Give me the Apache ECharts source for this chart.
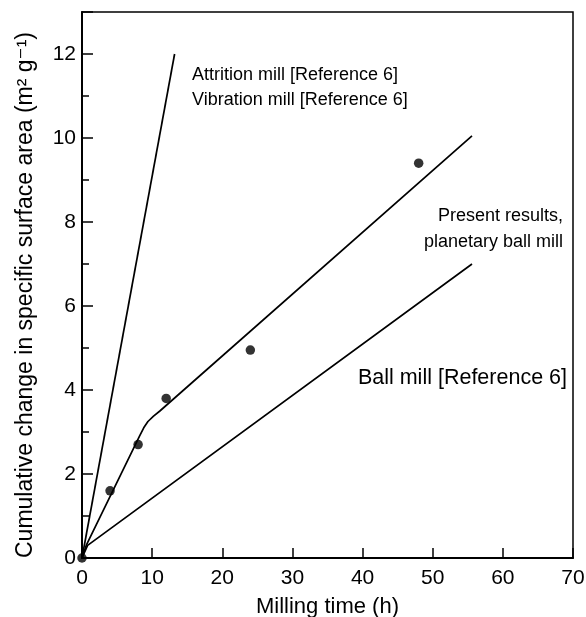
<!DOCTYPE html>
<html>
<head>
<meta charset="utf-8">
<script src="https://cdn.jsdelivr.net/npm/echarts@6/dist/echarts.min.js"></script>
<style>
html,body{margin:0;padding:0;background:#fff;}
#chart{width:586px;height:617px;}
</style>
</head>
<body>
<div id="chart"></div>
<script>
// Data
var xTicks = [0, 10, 20, 30, 40, 50, 60, 70];
var yTicks = [0, 2, 4, 6, 8, 10, 12];
var attritionLine = [[0, 0], [13.2, 12]];
var ballMillLine = [[0, 0], [0.8, 0.3], [55.6, 7.0]];
var presentLine = [[0, 0], [0.6, 0.3], [8.2, 2.9], [8.8, 3.1], [9.4, 3.25], [10.2, 3.38], [11.1, 3.5], [55.6, 10.05]];
var presentPoints = [[0, 0], [4, 1.6], [8, 2.7], [12, 3.8], [24, 4.95], [48, 9.4]];
var labels = {
  attrition: 'Attrition mill [Reference 6]',
  vibration: 'Vibration mill [Reference 6]',
  present1: 'Present results,',
  present2: 'planetary ball mill',
  ball: 'Ball mill [Reference 6]'
};
var xTitle = 'Milling time (h)';
var yTitle = 'Cumulative change in specific surface area (m\u00B2 g\u207B\u00B9)';

var FONT = "'Liberation Sans', Arial, Helvetica, 'DejaVu Sans', sans-serif";
var chart = echarts.init(document.getElementById('chart'), null, {renderer: 'canvas'});

function lineSeries(data) {
  return {
    type: 'line', data: data, symbol: 'none', xAxisIndex: 0, yAxisIndex: 0,
    lineStyle: {color: '#000', width: 1.7}, silent: true, z: 3
  };
}

var option = {
  animation: false,
  backgroundColor: '#fff',
  grid: {left: 82, right: 13, top: 12, bottom: 59, containLabel: false, outerBoundsMode: 'none',
    show: true, borderColor: '#000', borderWidth: 1.5, backgroundColor: 'transparent'},
  xAxis: [{
    type: 'value', min: xTicks[0], max: xTicks[xTicks.length - 1], interval: 10,
    name: xTitle, nameLocation: 'middle', nameGap: 38,
    nameTextStyle: {fontFamily: FONT, fontSize: 22, color: '#000'},
    axisLine: {show: true, lineStyle: {color: '#000', width: 2}},
    axisTick: {show: true, inside: true, length: 10, lineStyle: {color: '#000', width: 1.5}},
    axisLabel: {fontFamily: FONT, fontSize: 21, color: '#000', margin: 10,
      formatter: function (v) { return xTicks.indexOf(v) >= 0 ? String(v) : ''; }},
    splitLine: {show: false}
  }],
  yAxis: [{
    type: 'value', min: 0, max: 13, interval: 1,
    name: yTitle, nameLocation: 'middle', nameGap: 45,
    nameTextStyle: {fontFamily: FONT, fontSize: 23, color: '#000', padding: [0, 20, 0, 0]},
    axisLine: {show: true, lineStyle: {color: '#000', width: 2}},
    axisTick: {show: true, inside: true, length: 7, lineStyle: {color: '#000', width: 1.5}},
    axisLabel: {fontFamily: FONT, fontSize: 21, color: '#000', margin: 6,
      formatter: function (v) { return yTicks.indexOf(v) >= 0 ? String(v) : ''; }},
    splitLine: {show: false}
  }, {
    type: 'value', min: 0, max: 13, interval: 2, position: 'left', offset: 0,
    axisLine: {show: false},
    axisTick: {show: true, inside: true, length: 11, lineStyle: {color: '#000', width: 1.5}},
    axisLabel: {show: false},
    splitLine: {show: false}
  }],
  series: [
    lineSeries(attritionLine),
    lineSeries(ballMillLine),
    lineSeries(presentLine),
    {
      type: 'scatter', data: presentPoints, xAxisIndex: 0, yAxisIndex: 0,
      symbol: 'circle', symbolSize: 9.5, itemStyle: {color: '#000'}, clip: false, z: 4, silent: true
    }
  ],
  graphic: [
    {type: 'text', x: 192, y: 75, style: {text: labels.attrition, font: '18px ' + FONT, fill: '#000', align: 'left', verticalAlign: 'middle'}},
    {type: 'text', x: 192, y: 100, style: {text: labels.vibration, font: '18px ' + FONT, fill: '#000', align: 'left', verticalAlign: 'middle'}},
    {type: 'text', x: 563, y: 216, style: {text: labels.present1, font: '18px ' + FONT, fill: '#000', align: 'right', verticalAlign: 'middle'}},
    {type: 'text', x: 563, y: 242, style: {text: labels.present2, font: '18px ' + FONT, fill: '#000', align: 'right', verticalAlign: 'middle'}},
    {type: 'text', x: 567, y: 378, style: {text: labels.ball, font: '21.5px ' + FONT, fill: '#000', align: 'right', verticalAlign: 'middle'}}
  ]
};
chart.setOption(option);
</script>
</body>
</html>
